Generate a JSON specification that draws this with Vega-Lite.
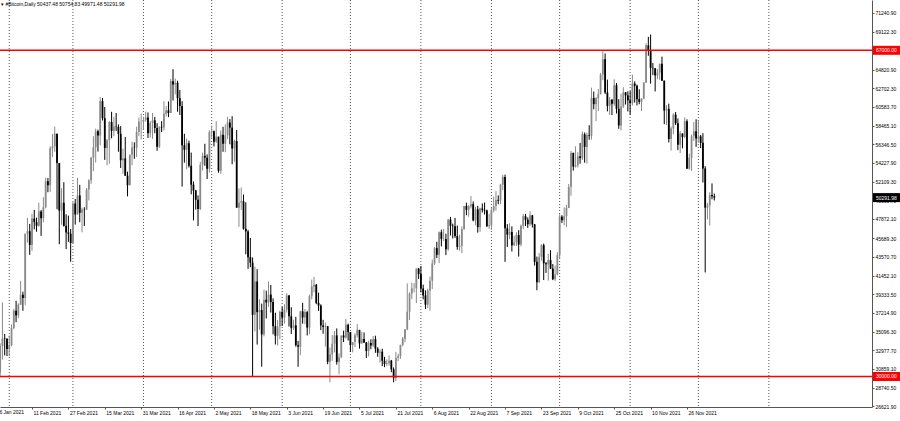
{
  "$schema": "https://vega.github.io/schema/vega-lite/v6.json",
  "width": 872,
  "height": 407,
  "autosize": {"type": "none"},
  "padding": {"left": 0, "top": 0, "right": 28, "bottom": 14},
  "background": "#ffffff",
  "config": {"view": {"stroke": null}, "font": "Liberation Sans", "axis": {"labelOverlap": false, "labelFlush": false}, "scale": {"continuousPadding": 0}},
  "title": {"text": "▾ #Bitcoin,Daily  50437.48 50754.83 49971.48 50291.98", "anchor": "start", "frame": "group", "orient": "top", "offset": -7, "fontSize": 5, "font": "Liberation Sans", "fontWeight": "normal", "color": "#000000", "dx": 1},
  "datasets": {
    "months": [{"d":"2021-02-01"},{"d":"2021-03-01"},{"d":"2021-04-01"},{"d":"2021-05-01"},{"d":"2021-06-01"},{"d":"2021-07-01"},{"d":"2021-08-01"},{"d":"2021-09-01"},{"d":"2021-10-01"},{"d":"2021-11-01"},{"d":"2021-12-01"},{"d":"2022-01-01"}],
    "firstdate": [{"d": "2021-01-26", "lab": "26 Jan 2021"}],
    "red": [{"p": 67000}, {"p": 30000}],
    "levels": [{"p": 67000, "lab": "67000.00", "kind": "line"}, {"p": 30000, "lab": "30000.00", "kind": "line"}, {"p": 50291.98, "lab": "50291.98", "kind": "bid"}],
    "candles": [
{"d":"2021-01-27","o":32560,"h":32560,"l":29240,"c":30430},
{"d":"2021-01-28","o":30430,"h":33780,"l":30020,"c":33470},
{"d":"2021-01-29","o":33470,"h":38400,"l":31920,"c":34320},
{"d":"2021-01-30","o":34320,"h":34830,"l":32390,"c":34270},
{"d":"2021-01-31","o":34270,"h":34330,"l":32310,"c":33110},
{"d":"2021-02-01","o":33110,"h":34640,"l":32300,"c":33540},
{"d":"2021-02-02","o":33540,"h":35900,"l":33420,"c":35510},
{"d":"2021-02-03","o":35510,"h":37660,"l":35360,"c":37470},
{"d":"2021-02-04","o":37470,"h":38590,"l":36160,"c":36930},
{"d":"2021-02-05","o":36930,"h":38310,"l":36610,"c":38140},
{"d":"2021-02-06","o":38140,"h":40850,"l":38140,"c":39270},
{"d":"2021-02-07","o":39270,"h":39620,"l":37450,"c":38900},
{"d":"2021-02-08","o":38900,"h":46200,"l":38100,"c":46200},
{"d":"2021-02-09","o":46200,"h":48000,"l":45200,"c":46480},
{"d":"2021-02-10","o":46480,"h":47310,"l":43800,"c":44920},
{"d":"2021-02-11","o":44920,"h":48460,"l":44250,"c":47910},
{"d":"2021-02-12","o":47910,"h":48890,"l":46690,"c":47500},
{"d":"2021-02-13","o":47500,"h":48020,"l":46420,"c":47100},
{"d":"2021-02-14","o":47100,"h":49710,"l":47000,"c":48720},
{"d":"2021-02-15","o":48720,"h":48880,"l":45950,"c":47950},
{"d":"2021-02-16","o":47950,"h":50340,"l":47480,"c":49200},
{"d":"2021-02-17","o":49200,"h":52530,"l":49070,"c":52150},
{"d":"2021-02-18","o":52150,"h":52510,"l":50900,"c":51680},
{"d":"2021-02-19","o":51680,"h":56110,"l":50940,"c":55890},
{"d":"2021-02-20","o":55890,"h":57510,"l":54900,"c":56100},
{"d":"2021-02-21","o":56100,"h":58350,"l":55480,"c":57540},
{"d":"2021-02-22","o":57540,"h":57540,"l":48970,"c":54210},
{"d":"2021-02-23","o":54210,"h":54210,"l":45000,"c":48820},
{"d":"2021-02-24","o":48820,"h":51360,"l":47210,"c":49710},
{"d":"2021-02-25","o":49710,"h":52040,"l":47000,"c":47090},
{"d":"2021-02-26","o":47090,"h":48400,"l":44450,"c":46340},
{"d":"2021-02-27","o":46340,"h":48250,"l":45270,"c":46190},
{"d":"2021-02-28","o":46190,"h":46720,"l":43020,"c":45140},
{"d":"2021-03-01","o":45140,"h":49780,"l":45140,"c":49630},
{"d":"2021-03-02","o":49630,"h":50130,"l":47230,"c":48380},
{"d":"2021-03-03","o":48380,"h":52540,"l":48380,"c":50540},
{"d":"2021-03-04","o":50540,"h":51740,"l":47500,"c":48560},
{"d":"2021-03-05","o":48560,"h":49150,"l":46350,"c":48930},
{"d":"2021-03-06","o":48930,"h":49200,"l":47070,"c":48910},
{"d":"2021-03-07","o":48910,"h":51380,"l":48910,"c":51210},
{"d":"2021-03-08","o":51210,"h":52380,"l":49970,"c":52250},
{"d":"2021-03-09","o":52250,"h":54900,"l":51850,"c":54820},
{"d":"2021-03-10","o":54820,"h":57260,"l":53290,"c":56010},
{"d":"2021-03-11","o":56010,"h":58110,"l":54270,"c":57810},
{"d":"2021-03-12","o":57810,"h":58000,"l":55510,"c":57330},
{"d":"2021-03-13","o":57330,"h":61680,"l":56220,"c":61240},
{"d":"2021-03-14","o":61240,"h":61600,"l":59040,"c":59300},
{"d":"2021-03-15","o":59300,"h":60570,"l":54570,"c":55910},
{"d":"2021-03-16","o":55910,"h":56930,"l":53950,"c":56800},
{"d":"2021-03-17","o":56800,"h":58980,"l":54130,"c":58870},
{"d":"2021-03-18","o":58870,"h":60030,"l":57020,"c":57860},
{"d":"2021-03-19","o":57860,"h":59470,"l":57250,"c":58350},
{"d":"2021-03-20","o":58350,"h":59880,"l":57850,"c":58310},
{"d":"2021-03-21","o":58310,"h":58590,"l":55490,"c":57520},
{"d":"2021-03-22","o":57520,"h":58400,"l":53650,"c":54530},
{"d":"2021-03-23","o":54530,"h":55850,"l":53000,"c":54740},
{"d":"2021-03-24","o":54740,"h":57170,"l":52760,"c":52770},
{"d":"2021-03-25","o":52770,"h":53230,"l":50430,"c":51700},
{"d":"2021-03-26","o":51700,"h":55200,"l":51700,"c":55140},
{"d":"2021-03-27","o":55140,"h":56640,"l":53960,"c":55970},
{"d":"2021-03-28","o":55970,"h":56560,"l":54690,"c":55950},
{"d":"2021-03-29","o":55950,"h":58340,"l":54890,"c":57750},
{"d":"2021-03-30","o":57750,"h":59370,"l":57250,"c":58920},
{"d":"2021-03-31","o":58920,"h":59800,"l":56870,"c":58920},
{"d":"2021-04-01","o":58920,"h":59460,"l":57990,"c":59100},
{"d":"2021-04-02","o":59100,"h":60040,"l":58900,"c":59380},
{"d":"2021-04-03","o":59380,"h":59950,"l":57050,"c":57600},
{"d":"2021-04-04","o":57600,"h":58960,"l":57100,"c":58760},
{"d":"2021-04-05","o":58760,"h":59890,"l":56960,"c":59060},
{"d":"2021-04-06","o":59060,"h":59450,"l":57590,"c":58190},
{"d":"2021-04-07","o":58190,"h":58730,"l":55600,"c":56050},
{"d":"2021-04-08","o":56050,"h":58370,"l":55930,"c":58320},
{"d":"2021-04-09","o":58320,"h":58960,"l":57730,"c":58250},
{"d":"2021-04-10","o":58250,"h":61220,"l":57900,"c":59790},
{"d":"2021-04-11","o":59790,"h":60690,"l":59500,"c":60200},
{"d":"2021-04-12","o":60200,"h":61200,"l":59420,"c":59890},
{"d":"2021-04-13","o":59890,"h":63740,"l":59890,"c":63500},
{"d":"2021-04-14","o":63500,"h":64860,"l":61300,"c":63110},
{"d":"2021-04-15","o":63110,"h":63800,"l":62000,"c":63310},
{"d":"2021-04-16","o":63310,"h":63550,"l":60030,"c":61570},
{"d":"2021-04-17","o":61570,"h":62500,"l":59670,"c":60680},
{"d":"2021-04-18","o":60680,"h":61220,"l":51540,"c":56220},
{"d":"2021-04-19","o":56220,"h":57530,"l":54250,"c":55720},
{"d":"2021-04-20","o":55720,"h":57000,"l":53500,"c":56470},
{"d":"2021-04-21","o":56470,"h":56750,"l":53700,"c":53910},
{"d":"2021-04-22","o":53910,"h":55400,"l":50660,"c":51760},
{"d":"2021-04-23","o":51760,"h":52120,"l":47710,"c":51090},
{"d":"2021-04-24","o":51090,"h":51160,"l":48930,"c":50050},
{"d":"2021-04-25","o":50050,"h":50540,"l":47060,"c":49000},
{"d":"2021-04-26","o":49000,"h":54360,"l":48890,"c":54020},
{"d":"2021-04-27","o":54020,"h":55400,"l":53360,"c":55030},
{"d":"2021-04-28","o":55030,"h":56400,"l":53900,"c":54820},
{"d":"2021-04-29","o":54820,"h":55190,"l":52400,"c":53560},
{"d":"2021-04-30","o":53560,"h":57920,"l":53130,"c":57750},
{"d":"2021-05-01","o":57750,"h":58450,"l":57080,"c":57830},
{"d":"2021-05-02","o":57830,"h":57900,"l":56090,"c":56630},
{"d":"2021-05-03","o":56630,"h":58960,"l":56500,"c":57200},
{"d":"2021-05-04","o":57200,"h":57200,"l":53120,"c":53330},
{"d":"2021-05-05","o":53330,"h":57900,"l":52970,"c":57420},
{"d":"2021-05-06","o":57420,"h":58320,"l":55490,"c":56400},
{"d":"2021-05-07","o":56400,"h":58590,"l":55440,"c":57360},
{"d":"2021-05-08","o":57360,"h":59460,"l":56930,"c":58800},
{"d":"2021-05-09","o":58800,"h":59200,"l":56330,"c":58230},
{"d":"2021-05-10","o":58230,"h":59520,"l":54070,"c":55860},
{"d":"2021-05-11","o":55860,"h":56870,"l":54360,"c":56700},
{"d":"2021-05-12","o":56700,"h":57970,"l":49150,"c":49150},
{"d":"2021-05-13","o":49150,"h":51330,"l":46980,"c":49720},
{"d":"2021-05-14","o":49720,"h":51440,"l":48900,"c":49880},
{"d":"2021-05-15","o":49880,"h":50640,"l":46660,"c":46760},
{"d":"2021-05-16","o":46760,"h":49760,"l":43860,"c":46460},
{"d":"2021-05-17","o":46460,"h":46620,"l":42210,"c":43540},
{"d":"2021-05-18","o":43540,"h":45710,"l":42400,"c":42910},
{"d":"2021-05-19","o":42910,"h":43500,"l":30000,"c":37000},
{"d":"2021-05-20","o":37000,"h":42460,"l":35120,"c":40780},
{"d":"2021-05-21","o":40780,"h":42170,"l":33620,"c":37300},
{"d":"2021-05-22","o":37300,"h":38760,"l":35310,"c":37540},
{"d":"2021-05-23","o":37540,"h":38270,"l":31110,"c":34770},
{"d":"2021-05-24","o":34770,"h":39840,"l":34550,"c":38710},
{"d":"2021-05-25","o":38710,"h":39740,"l":36580,"c":38400},
{"d":"2021-05-26","o":38400,"h":40780,"l":37890,"c":39290},
{"d":"2021-05-27","o":39290,"h":40380,"l":37250,"c":38440},
{"d":"2021-05-28","o":38440,"h":38860,"l":34780,"c":35700},
{"d":"2021-05-29","o":35700,"h":37240,"l":33630,"c":34620},
{"d":"2021-05-30","o":34620,"h":36400,"l":33520,"c":35680},
{"d":"2021-05-31","o":35680,"h":37470,"l":34240,"c":37330},
{"d":"2021-06-01","o":37330,"h":37890,"l":35730,"c":36680},
{"d":"2021-06-02","o":36680,"h":38200,"l":36010,"c":37580},
{"d":"2021-06-03","o":37580,"h":39450,"l":37250,"c":39190},
{"d":"2021-06-04","o":39190,"h":39250,"l":35660,"c":36830},
{"d":"2021-06-05","o":36830,"h":37860,"l":34830,"c":35520},
{"d":"2021-06-06","o":35520,"h":36440,"l":35290,"c":35800},
{"d":"2021-06-07","o":35800,"h":36760,"l":33380,"c":33550},
{"d":"2021-06-08","o":33550,"h":34040,"l":31100,"c":33380},
{"d":"2021-06-09","o":33380,"h":37450,"l":32420,"c":37390},
{"d":"2021-06-10","o":37390,"h":38360,"l":35990,"c":36700},
{"d":"2021-06-11","o":36700,"h":37650,"l":35950,"c":37310},
{"d":"2021-06-12","o":37310,"h":37450,"l":34650,"c":35550},
{"d":"2021-06-13","o":35550,"h":39290,"l":34790,"c":39100},
{"d":"2021-06-14","o":39100,"h":40990,"l":38750,"c":40220},
{"d":"2021-06-15","o":40220,"h":41300,"l":39550,"c":40410},
{"d":"2021-06-16","o":40410,"h":40490,"l":38200,"c":38350},
{"d":"2021-06-17","o":38350,"h":39510,"l":37440,"c":38050},
{"d":"2021-06-18","o":38050,"h":38190,"l":35260,"c":35790},
{"d":"2021-06-19","o":35790,"h":36430,"l":34850,"c":35620},
{"d":"2021-06-20","o":35620,"h":36110,"l":33400,"c":35700},
{"d":"2021-06-21","o":35700,"h":35740,"l":31390,"c":31680},
{"d":"2021-06-22","o":31680,"h":33280,"l":29350,"c":32510},
{"d":"2021-06-23","o":32510,"h":34720,"l":31770,"c":33720},
{"d":"2021-06-24","o":33720,"h":35160,"l":32740,"c":34660},
{"d":"2021-06-25","o":34660,"h":35450,"l":31350,"c":31640},
{"d":"2021-06-26","o":31640,"h":32630,"l":30250,"c":32190},
{"d":"2021-06-27","o":32190,"h":34660,"l":32070,"c":34650},
{"d":"2021-06-28","o":34650,"h":35200,"l":33900,"c":34430},
{"d":"2021-06-29","o":34430,"h":36540,"l":34300,"c":35870},
{"d":"2021-06-30","o":35870,"h":36000,"l":34080,"c":35040},
{"d":"2021-07-01","o":35040,"h":35040,"l":32790,"c":33570},
{"d":"2021-07-02","o":33570,"h":33900,"l":32740,"c":33900},
{"d":"2021-07-03","o":33900,"h":34900,"l":33340,"c":34670},
{"d":"2021-07-04","o":34670,"h":35940,"l":34420,"c":35290},
{"d":"2021-07-05","o":35290,"h":35290,"l":33160,"c":33750},
{"d":"2021-07-06","o":33750,"h":35060,"l":33720,"c":34240},
{"d":"2021-07-07","o":34240,"h":35000,"l":33800,"c":33860},
{"d":"2021-07-08","o":33860,"h":33910,"l":32100,"c":32880},
{"d":"2021-07-09","o":32880,"h":34060,"l":32280,"c":33800},
{"d":"2021-07-10","o":33800,"h":34230,"l":33090,"c":33520},
{"d":"2021-07-11","o":33520,"h":34590,"l":33340,"c":34240},
{"d":"2021-07-12","o":34240,"h":34630,"l":32690,"c":33160},
{"d":"2021-07-13","o":33160,"h":33320,"l":32240,"c":32700},
{"d":"2021-07-14","o":32700,"h":33090,"l":31600,"c":32820},
{"d":"2021-07-15","o":32820,"h":33150,"l":31170,"c":31780},
{"d":"2021-07-16","o":31780,"h":32230,"l":31060,"c":31420},
{"d":"2021-07-17","o":31420,"h":31950,"l":31200,"c":31530},
{"d":"2021-07-18","o":31530,"h":32390,"l":31230,"c":31800},
{"d":"2021-07-19","o":31800,"h":31880,"l":30490,"c":30820},
{"d":"2021-07-20","o":30820,"h":31030,"l":29350,"c":29810},
{"d":"2021-07-21","o":29810,"h":32790,"l":29490,"c":32110},
{"d":"2021-07-22","o":32110,"h":32580,"l":31720,"c":32310},
{"d":"2021-07-23","o":32310,"h":33610,"l":32000,"c":33580},
{"d":"2021-07-24","o":33580,"h":34490,"l":33420,"c":34290},
{"d":"2021-07-25","o":34290,"h":35360,"l":33880,"c":35350},
{"d":"2021-07-26","o":35350,"h":40550,"l":35250,"c":37340},
{"d":"2021-07-27","o":37340,"h":39540,"l":36410,"c":39410},
{"d":"2021-07-28","o":39410,"h":40640,"l":38770,"c":40000},
{"d":"2021-07-29","o":40000,"h":40590,"l":39540,"c":40010},
{"d":"2021-07-30","o":40010,"h":42280,"l":38320,"c":42240},
{"d":"2021-07-31","o":42240,"h":42320,"l":41070,"c":41630},
{"d":"2021-08-01","o":41630,"h":42540,"l":39540,"c":39980},
{"d":"2021-08-02","o":39980,"h":40420,"l":38750,"c":39200},
{"d":"2021-08-03","o":39200,"h":39770,"l":37670,"c":38150},
{"d":"2021-08-04","o":38150,"h":39950,"l":37790,"c":39750},
{"d":"2021-08-05","o":39750,"h":41340,"l":37460,"c":40870},
{"d":"2021-08-06","o":40870,"h":43270,"l":39930,"c":42820},
{"d":"2021-08-07","o":42820,"h":44690,"l":42650,"c":44560},
{"d":"2021-08-08","o":44560,"h":45280,"l":43430,"c":43800},
{"d":"2021-08-09","o":43800,"h":46450,"l":42850,"c":46370},
{"d":"2021-08-10","o":46370,"h":46660,"l":44760,"c":45590},
{"d":"2021-08-11","o":45590,"h":46740,"l":45360,"c":45590},
{"d":"2021-08-12","o":45590,"h":46200,"l":43770,"c":44430},
{"d":"2021-08-13","o":44430,"h":47880,"l":44260,"c":47790},
{"d":"2021-08-14","o":47790,"h":48100,"l":45990,"c":47100},
{"d":"2021-08-15","o":47100,"h":47340,"l":45660,"c":47050},
{"d":"2021-08-16","o":47050,"h":47990,"l":45720,"c":45940},
{"d":"2021-08-17","o":45940,"h":47120,"l":44380,"c":44700},
{"d":"2021-08-18","o":44700,"h":46080,"l":44280,"c":44800},
{"d":"2021-08-19","o":44800,"h":47030,"l":43990,"c":46720},
{"d":"2021-08-20","o":46720,"h":49340,"l":46650,"c":49340},
{"d":"2021-08-21","o":49340,"h":49720,"l":48290,"c":48910},
{"d":"2021-08-22","o":48910,"h":49460,"l":48130,"c":49320},
{"d":"2021-08-23","o":49320,"h":50480,"l":49070,"c":49550},
{"d":"2021-08-24","o":49550,"h":49850,"l":47600,"c":47710},
{"d":"2021-08-25","o":47710,"h":49240,"l":47150,"c":48960},
{"d":"2021-08-26","o":48960,"h":49350,"l":46320,"c":46940},
{"d":"2021-08-27","o":46940,"h":49150,"l":46410,"c":49060},
{"d":"2021-08-28","o":49060,"h":49630,"l":48600,"c":48900},
{"d":"2021-08-29","o":48900,"h":49730,"l":48370,"c":48830},
{"d":"2021-08-30","o":48830,"h":48930,"l":46950,"c":47050},
{"d":"2021-08-31","o":47050,"h":48440,"l":46750,"c":47170},
{"d":"2021-09-01","o":47170,"h":49150,"l":46630,"c":48850},
{"d":"2021-09-02","o":48850,"h":50400,"l":48620,"c":49330},
{"d":"2021-09-03","o":49330,"h":51030,"l":48800,"c":50030},
{"d":"2021-09-04","o":50030,"h":50540,"l":49540,"c":49940},
{"d":"2021-09-05","o":49940,"h":51860,"l":49530,"c":51750},
{"d":"2021-09-06","o":51750,"h":52850,"l":51140,"c":52630},
{"d":"2021-09-07","o":52630,"h":52900,"l":43000,"c":46810},
{"d":"2021-09-08","o":46810,"h":47280,"l":44700,"c":46090},
{"d":"2021-09-09","o":46090,"h":47380,"l":45570,"c":46390},
{"d":"2021-09-10","o":46390,"h":47030,"l":44170,"c":44880},
{"d":"2021-09-11","o":44880,"h":45960,"l":44820,"c":45200},
{"d":"2021-09-12","o":45200,"h":46360,"l":44790,"c":46060},
{"d":"2021-09-13","o":46060,"h":46600,"l":43600,"c":44960},
{"d":"2021-09-14","o":44960,"h":47230,"l":44760,"c":47090},
{"d":"2021-09-15","o":47090,"h":48420,"l":46750,"c":48180},
{"d":"2021-09-16","o":48180,"h":48450,"l":47060,"c":47780},
{"d":"2021-09-17","o":47780,"h":48040,"l":46850,"c":47270},
{"d":"2021-09-18","o":47270,"h":48750,"l":47090,"c":48280},
{"d":"2021-09-19","o":48280,"h":48330,"l":46900,"c":47260},
{"d":"2021-09-20","o":47260,"h":47300,"l":42580,"c":43010},
{"d":"2021-09-21","o":43010,"h":43600,"l":39790,"c":40690},
{"d":"2021-09-22","o":40690,"h":44000,"l":40630,"c":43570},
{"d":"2021-09-23","o":43570,"h":45000,"l":43130,"c":44900},
{"d":"2021-09-24","o":44900,"h":45080,"l":40940,"c":42840},
{"d":"2021-09-25","o":42840,"h":42970,"l":41750,"c":42720},
{"d":"2021-09-26","o":42720,"h":43920,"l":40880,"c":43210},
{"d":"2021-09-27","o":43210,"h":44320,"l":42190,"c":42240},
{"d":"2021-09-28","o":42240,"h":42760,"l":40930,"c":41030},
{"d":"2021-09-29","o":41030,"h":42590,"l":40810,"c":41560},
{"d":"2021-09-30","o":41560,"h":44090,"l":41470,"c":43790},
{"d":"2021-10-01","o":43790,"h":48400,"l":43320,"c":48120},
{"d":"2021-10-02","o":48120,"h":48300,"l":47420,"c":47710},
{"d":"2021-10-03","o":47710,"h":49190,"l":47150,"c":48200},
{"d":"2021-10-04","o":48200,"h":49470,"l":46950,"c":49110},
{"d":"2021-10-05","o":49110,"h":51840,"l":49100,"c":51510},
{"d":"2021-10-06","o":51510,"h":55580,"l":50500,"c":55360},
{"d":"2021-10-07","o":55360,"h":55400,"l":53360,"c":53810},
{"d":"2021-10-08","o":53810,"h":56100,"l":53700,"c":53970},
{"d":"2021-10-09","o":53970,"h":55450,"l":53720,"c":54970},
{"d":"2021-10-10","o":54970,"h":56500,"l":54140,"c":54770},
{"d":"2021-10-11","o":54770,"h":57790,"l":54540,"c":57480},
{"d":"2021-10-12","o":57480,"h":57680,"l":54250,"c":56040},
{"d":"2021-10-13","o":56040,"h":57660,"l":54150,"c":57400},
{"d":"2021-10-14","o":57400,"h":58500,"l":56850,"c":57320},
{"d":"2021-10-15","o":57320,"h":62760,"l":56870,"c":61590},
{"d":"2021-10-16","o":61590,"h":62320,"l":60310,"c":60890},
{"d":"2021-10-17","o":60890,"h":61700,"l":58960,"c":61550},
{"d":"2021-10-18","o":61550,"h":62600,"l":60100,"c":62030},
{"d":"2021-10-19","o":62030,"h":64430,"l":61990,"c":64260},
{"d":"2021-10-20","o":64260,"h":66930,"l":63610,"c":65990},
{"d":"2021-10-21","o":65990,"h":66640,"l":62030,"c":62210},
{"d":"2021-10-22","o":62210,"h":63680,"l":60070,"c":60690},
{"d":"2021-10-23","o":60690,"h":61710,"l":59660,"c":61390},
{"d":"2021-10-24","o":61390,"h":61480,"l":59650,"c":60930},
{"d":"2021-10-25","o":60930,"h":63710,"l":60700,"c":63040},
{"d":"2021-10-26","o":63040,"h":63290,"l":59830,"c":60360},
{"d":"2021-10-27","o":60360,"h":61460,"l":58090,"c":58480},
{"d":"2021-10-28","o":58480,"h":62060,"l":57910,"c":60620},
{"d":"2021-10-29","o":60620,"h":62820,"l":60460,"c":62230},
{"d":"2021-10-30","o":62230,"h":62260,"l":60850,"c":61890},
{"d":"2021-10-31","o":61890,"h":62350,"l":60060,"c":61320},
{"d":"2021-11-01","o":61320,"h":62380,"l":59700,"c":61000},
{"d":"2021-11-02","o":61000,"h":64240,"l":60740,"c":63230},
{"d":"2021-11-03","o":63230,"h":63480,"l":61070,"c":62970},
{"d":"2021-11-04","o":62970,"h":63110,"l":60750,"c":61450},
{"d":"2021-11-05","o":61450,"h":62580,"l":60880,"c":61130},
{"d":"2021-11-06","o":61130,"h":61560,"l":60110,"c":61530},
{"d":"2021-11-07","o":61530,"h":63400,"l":61440,"c":63330},
{"d":"2021-11-08","o":63330,"h":67790,"l":63320,"c":67570},
{"d":"2021-11-09","o":67570,"h":68530,"l":66380,"c":66970},
{"d":"2021-11-10","o":66970,"h":68790,"l":63210,"c":65000},
{"d":"2021-11-11","o":65000,"h":65570,"l":64180,"c":64950},
{"d":"2021-11-12","o":64950,"h":65000,"l":62330,"c":64150},
{"d":"2021-11-13","o":64150,"h":64880,"l":63720,"c":64470},
{"d":"2021-11-14","o":64470,"h":65490,"l":63650,"c":65470},
{"d":"2021-11-15","o":65470,"h":66280,"l":63550,"c":63560},
{"d":"2021-11-16","o":63560,"h":63560,"l":58620,"c":60160},
{"d":"2021-11-17","o":60160,"h":60780,"l":58540,"c":60370},
{"d":"2021-11-18","o":60370,"h":60950,"l":56550,"c":56940},
{"d":"2021-11-19","o":56940,"h":58350,"l":55630,"c":58120},
{"d":"2021-11-20","o":58120,"h":59860,"l":57470,"c":59700},
{"d":"2021-11-21","o":59700,"h":60000,"l":58530,"c":58730},
{"d":"2021-11-22","o":58730,"h":59270,"l":55680,"c":56290},
{"d":"2021-11-23","o":56290,"h":57840,"l":55350,"c":57570},
{"d":"2021-11-24","o":57570,"h":57570,"l":55880,"c":57170},
{"d":"2021-11-25","o":57170,"h":59390,"l":57020,"c":58960},
{"d":"2021-11-26","o":58960,"h":59170,"l":53570,"c":53570},
{"d":"2021-11-27","o":53570,"h":55280,"l":53450,"c":54820},
{"d":"2021-11-28","o":54820,"h":57440,"l":53330,"c":57250},
{"d":"2021-11-29","o":57250,"h":58870,"l":56730,"c":57810},
{"d":"2021-11-30","o":57810,"h":59180,"l":56040,"c":57010},
{"d":"2021-12-01","o":57010,"h":59040,"l":56500,"c":57230},
{"d":"2021-12-02","o":57230,"h":57400,"l":55900,"c":56500},
{"d":"2021-12-03","o":56500,"h":57600,"l":52000,"c":53600},
{"d":"2021-12-04","o":53600,"h":53860,"l":41800,"c":49150},
{"d":"2021-12-05","o":49150,"h":49700,"l":47800,"c":49400},
{"d":"2021-12-06","o":49400,"h":50900,"l":47100,"c":50580},
{"d":"2021-12-07","o":50580,"h":51900,"l":50100,"c":50437.48},
{"d":"2021-12-08","o":50437.48,"h":50754.83,"l":49971.48,"c":50291.98}
    ]
  },
  "layer": [
    {
      "data": {"name": "months"},
      "mark": {"type": "rule", "color": "#555555", "strokeWidth": 1, "strokeDash": [1, 2]},
      "encoding": {
        "x": {
          "field": "d", "type": "temporal",
          "scale": {"type": "utc", "domain": [1611785935000, 1644913008000], "nice": false, "padding": 0},
          "axis": {
            "values": [1613001600000, 1614384000000, 1615766400000, 1617148800000, 1618531200000, 1619913600000, 1621296000000, 1622678400000, 1624060800000, 1625443200000, 1626825600000, 1628208000000, 1629590400000, 1630972800000, 1632355200000, 1633737600000, 1635120000000, 1636502400000, 1637884800000],
            "tickCount": 40,
            "format": "%-d %b %Y", "labelAlign": "left", "labelOffset": 1, "labelBaseline": "top",
            "labelPadding": 1, "tickSize": 2, "labelFontSize": 5, "labelFont": "Liberation Sans", "labelColor": "#000000",
            "domainColor": "#555555", "tickColor": "#555555", "grid": false,
            "labelOverlap": false, "labelFlush": false, "labelBound": false, "title": null
          }
        }
      }
    },
    {
      "data": {"name": "firstdate"},
      "mark": {"type": "text", "align": "left", "baseline": "top", "dx": 1, "dy": 3, "fontSize": 5, "font": "Liberation Sans", "color": "#000000"},
      "encoding": {
        "x": {"field": "d", "type": "temporal", "scale": {"type": "utc", "domain": [1611785935000, 1644913008000], "nice": false, "padding": 0}},
        "y": {"datum": 26540, "type": "quantitative", "scale": {"domain": [26540, 72706], "nice": false, "zero": false, "padding": 0}},
        "text": {"field": "lab"}
      }
    },
    {
      "mark": {"type": "rule", "color": "#c4c4c4", "strokeWidth": 1},
      "encoding": {
        "y": {"datum": 50291.98, "type": "quantitative", "scale": {"domain": [26540, 72706], "nice": false, "zero": false, "padding": 0}}
      }
    },
    {
      "data": {"name": "candles"},
      "mark": {"type": "rule", "strokeWidth": 1},
      "encoding": {
        "x": {"field": "d", "type": "temporal", "scale": {"type": "utc", "domain": [1611785935000, 1644913008000], "nice": false, "padding": 0}},
        "y": {
          "field": "l", "type": "quantitative",
          "scale": {"domain": [26540, 72706], "nice": false, "zero": false, "padding": 0},
          "axis": {
            "orient": "right",
            "values": [71240.9, 69122.3, 64820.9, 62702.3, 60583.7, 58465.1, 56346.5, 54227.9, 52109.3, 49990.7, 47872.1, 45689.3, 43570.7, 41452.1, 39333.5, 37214.9, 35096.3, 32977.7, 30859.1, 28740.5, 26621.9],
            "tickCount": 40,
            "format": ".2f", "labelFontSize": 5, "labelFont": "Liberation Sans", "labelPadding": 1, "tickSize": 2,
            "domainColor": "#555555", "tickColor": "#555555", "labelColor": "#000000", "grid": false,
            "labelOverlap": false, "labelFlush": false, "labelBaseline": "middle", "title": null
          }
        },
        "y2": {"field": "h"},
        "color": {"condition": {"test": "datum.c >= datum.o", "value": "#8a8a8a"}, "value": "#000000"}
      }
    },
    {
      "data": {"name": "candles"},
      "mark": {"type": "bar", "width": 1.8},
      "encoding": {
        "x": {"field": "d", "type": "temporal", "scale": {"type": "utc", "domain": [1611785935000, 1644913008000], "nice": false, "padding": 0}},
        "y": {"field": "o", "type": "quantitative", "scale": {"domain": [26540, 72706], "nice": false, "zero": false, "padding": 0}},
        "y2": {"field": "c"},
        "color": {"condition": {"test": "datum.c >= datum.o", "value": "#8a8a8a"}, "value": "#000000"}
      }
    },
    {
      "data": {"name": "red"},
      "mark": {"type": "rule", "color": "#ff0000", "strokeWidth": 1.5},
      "encoding": {
        "y": {"field": "p", "type": "quantitative", "scale": {"domain": [26540, 72706], "nice": false, "zero": false, "padding": 0}}
      }
    },
    {
      "data": {"name": "levels"},
      "mark": {"type": "point", "shape": "M1,-4.5H28V4.5H1Z", "size": 4, "filled": true, "opacity": 1, "strokeWidth": 0},
      "encoding": {
        "x": {"datum": 1644913008000, "type": "temporal", "scale": {"type": "utc", "domain": [1611785935000, 1644913008000], "nice": false, "padding": 0}},
        "y": {"field": "p", "type": "quantitative", "scale": {"domain": [26540, 72706], "nice": false, "zero": false, "padding": 0}},
        "fill": {"condition": {"test": "datum.kind === 'bid'", "value": "#000000"}, "value": "#ff0000"}
      }
    },
    {
      "data": {"name": "levels"},
      "mark": {"type": "text", "align": "left", "baseline": "middle", "dx": 4, "fontSize": 5, "font": "Liberation Sans", "color": "#ffffff"},
      "encoding": {
        "x": {"datum": 1644913008000, "type": "temporal", "scale": {"type": "utc", "domain": [1611785935000, 1644913008000], "nice": false, "padding": 0}},
        "y": {"field": "p", "type": "quantitative", "scale": {"domain": [26540, 72706], "nice": false, "zero": false, "padding": 0}},
        "text": {"field": "lab"}
      }
    }
  ]
}
